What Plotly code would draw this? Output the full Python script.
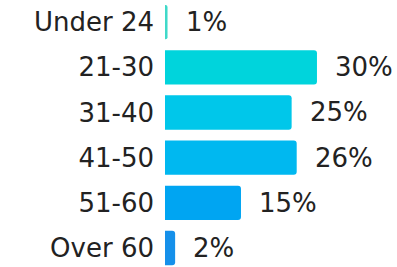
import plotly.graph_objects as go

categories = ["Under 24", "21-30", "31-40", "41-50", "51-60", "Over 60"]
values = [0.5, 30, 25, 26, 15, 2]
value_labels = ["1%", "30%", "25%", "26%", "15%", "2%"]
colors = ["#3fd9c9", "#00d4dc", "#00c7ea", "#00b8f0", "#00a5f2", "#1590ea"]

FONT = "DejaVu Sans"

fig = go.Figure(go.Bar(
    x=values, y=categories, orientation="h",
    marker=dict(color=colors, cornerradius=3, line=dict(width=0)),
    width=0.76,
    hoverinfo="skip",
))

for c, v, t in zip(categories, values, value_labels):
    fig.add_annotation(x=v, y=c, text=t, showarrow=False, xanchor="left",
                       xshift=16, font=dict(family=FONT, size=26, color="#222222"))

fig.update_layout(
    width=397, height=267,
    margin=dict(l=165, r=0, t=0, b=0),
    paper_bgcolor="white", plot_bgcolor="white",
    showlegend=False,
    xaxis=dict(range=[0, 45.8], visible=False, fixedrange=True),
    yaxis=dict(range=[5.42, -0.49], showgrid=False, zeroline=False,
               automargin=False, ticklabelstandoff=10, fixedrange=True,
               tickfont=dict(family=FONT, size=26, color="#222222")),
)

fig.write_html("out.html", config={"displayModeBar": False},
               post_script="document.body.style.margin='0';document.body.style.overflow='hidden';")
